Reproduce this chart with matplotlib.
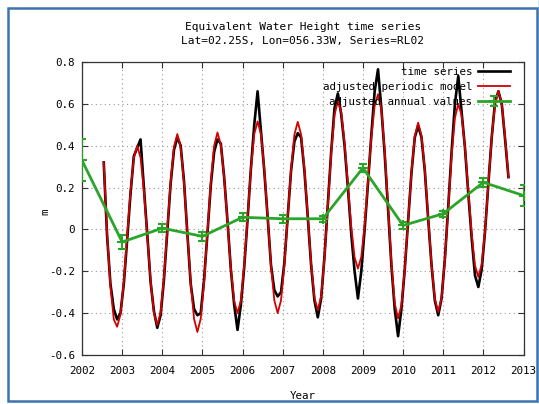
import numpy as np
import matplotlib
matplotlib.use("Agg")
import matplotlib.pyplot as plt
from matplotlib.patches import Rectangle

# ---------------- data ----------------
start_year = 2002
start_month = 7  # first monthly sample (July 2002)

# adjusted periodic model (monthly, Jul 2002 - Aug 2012)
model_vals = [
    0.32, -0.02, -0.27, -0.43, -0.465, -0.407,
    -0.249, -0.033, 0.184, 0.342, 0.40, 0.343, 0.186, -0.029, -0.243, -0.40, -0.457, -0.396,
    -0.229, 0.0, 0.228, 0.395, 0.456, 0.393, 0.22, -0.017, -0.254, -0.427, -0.49, -0.426,
    -0.252, -0.014, 0.225, 0.399, 0.463, 0.405, 0.247, 0.032, -0.184, -0.342, -0.40, -0.339,
    -0.171, 0.058, 0.287, 0.455, 0.516, 0.455, 0.287, 0.058, -0.171, -0.339, -0.40, -0.339,
    -0.172, 0.057, 0.286, 0.453, 0.514, 0.454, 0.289, 0.064, -0.161, -0.326, -0.386, -0.319,
    -0.136, 0.114, 0.364, 0.547, 0.614, 0.560, 0.414, 0.214, 0.013, -0.133, -0.187, -0.131,
    0.021, 0.23, 0.438, 0.59, 0.646, 0.574, 0.378, 0.11, -0.157, -0.353, -0.425, -0.362,
    -0.191, 0.043, 0.276, 0.447, 0.51, 0.449, 0.284, 0.058, -0.168, -0.333, -0.394, -0.327,
    -0.146, 0.103, 0.352, 0.533, 0.60, 0.545, 0.393, 0.187, -0.02, -0.172, -0.227, -0.167,
    -0.005, 0.218, 0.44, 0.602, 0.662, 0.60, 0.44, 0.25,
]

# time series (monthly, Jul 2002 - Aug 2012)
series_vals = [
    0.32, -0.03, -0.26, -0.38, -0.43, -0.40,
    -0.26, -0.05, 0.17, 0.35, 0.39, 0.43, 0.20, -0.02, -0.25, -0.39, -0.47, -0.41,
    -0.24, -0.01, 0.22, 0.38, 0.44, 0.40, 0.23, -0.02, -0.26, -0.38, -0.41, -0.40,
    -0.24, -0.02, 0.21, 0.37, 0.43, 0.41, 0.25, 0.04, -0.19, -0.36, -0.48, -0.36,
    -0.18, 0.05, 0.29, 0.50, 0.66, 0.47, 0.28, 0.06, -0.17, -0.29, -0.32, -0.30,
    -0.16, 0.06, 0.28, 0.42, 0.46, 0.44, 0.28, 0.06, -0.17, -0.34, -0.42, -0.33,
    -0.13, 0.12, 0.37, 0.58, 0.65, 0.55, 0.40, 0.20, -0.02, -0.20, -0.33, -0.20,
    0.0, 0.22, 0.45, 0.66, 0.765, 0.58, 0.36, 0.10, -0.17, -0.38, -0.51, -0.38,
    -0.19, 0.04, 0.27, 0.44, 0.495, 0.44, 0.28, 0.05, -0.17, -0.34, -0.41, -0.33,
    -0.14, 0.11, 0.37, 0.60, 0.733, 0.56, 0.39, 0.17, -0.04, -0.22, -0.275, -0.19,
    -0.01, 0.22, 0.44, 0.61, 0.66, 0.60, 0.43, 0.25,
]

annual_years = [2002, 2003, 2004, 2005, 2006, 2007, 2008, 2009, 2010, 2011, 2012, 2013]
annual_vals = [0.33, -0.06, 0.006, -0.033, 0.058, 0.051, 0.051, 0.294, 0.019, 0.075, 0.225, 0.162]
annual_err = [0.10, 0.035, 0.02, 0.02, 0.02, 0.02, 0.015, 0.02, 0.015, 0.015, 0.02, 0.05]

xticks = [2002, 2003, 2004, 2005, 2006, 2007, 2008, 2009, 2010, 2011, 2012, 2013]
yticks = [-0.6, -0.4, -0.2, 0, 0.2, 0.4, 0.6, 0.8]
ytick_labels = ["-0.6", "-0.4", "-0.2", "0", "0.2", "0.4", "0.6", "0.8"]

title = "Equivalent Water Height time series\nLat=02.25S, Lon=056.33W, Series=RL02"

# monthly sample times (mid-month, decimal year)
n = len(model_vals)
t = start_year + (start_month - 1 + np.arange(n) + 0.5) / 12.0

# ---------------- plot ----------------
plt.rcParams['font.family'] = ['DejaVu Sans Mono', 'DejaVu Sans']
FS = 7.8

fig = plt.figure(figsize=(5.39, 4.04), dpi=100)
W, H = 539, 404

# outer blue frame
fig.patches.append(Rectangle((537.5 / W, 0), 2 / W, 1, transform=fig.transFigure,
                             facecolor='#d3e8f3', edgecolor='none', zorder=-2))
fig.patches.append(Rectangle((8 / W, 3 / H), (537 - 8) / W, (396 - 3) / H,
                             transform=fig.transFigure, facecolor='none',
                             edgecolor='#3c74ad', lw=1.8, zorder=-1))

ax = fig.add_axes([82 / W, 1 - 355 / H, (523.5 - 82) / W, (355 - 62) / H])

ax.plot(t, series_vals, color='black', lw=1.9, label='time series', zorder=3)
ax.plot(t, model_vals, color='#d40000', lw=1.3, label='adjusted periodic model', zorder=4)
ax.errorbar(annual_years, annual_vals, yerr=annual_err, color='#2aa52a', lw=2.0,
            marker='+', ms=7, mew=1.5, capsize=3, capthick=1.3, elinewidth=1.3,
            label='adjusted annual values', zorder=5, clip_on=True)

ax.set_xlim(2002, 2013)
ax.set_ylim(-0.6, 0.8)
ax.set_xticks(xticks)
ax.set_xticklabels([str(x) for x in xticks], fontsize=FS)
ax.set_yticks(yticks)
ax.set_yticklabels(ytick_labels, fontsize=FS)
ax.tick_params(direction='in', top=True, right=True, length=4, width=0.8,
               color='#333333')
ax.tick_params(axis='x', pad=8)
ax.tick_params(axis='y', pad=5)
ax.grid(True, linestyle=(0, (1, 3)), color='#999999', lw=0.8)
for s in ax.spines.values():
    s.set_color('#333333')
    s.set_linewidth(0.9)

ax.set_xlabel('Year', fontsize=FS, labelpad=11)
ax.set_ylabel('m', fontsize=FS)
ax.yaxis.set_label_coords((50 - 82) / (523.5 - 82), 0.49)
ax.set_title(title, fontsize=8.0, linespacing=1.5, pad=13)

leg = ax.legend(loc='upper right', bbox_to_anchor=(1 - 13.5 / (523.5 - 82), 1 - 5 / 293),
                frameon=False, markerfirst=False, fontsize=FS, handlelength=3.0,
                handletextpad=0.5, labelspacing=0.45, borderaxespad=0, borderpad=0)

fig.savefig('out.png', dpi=100)
